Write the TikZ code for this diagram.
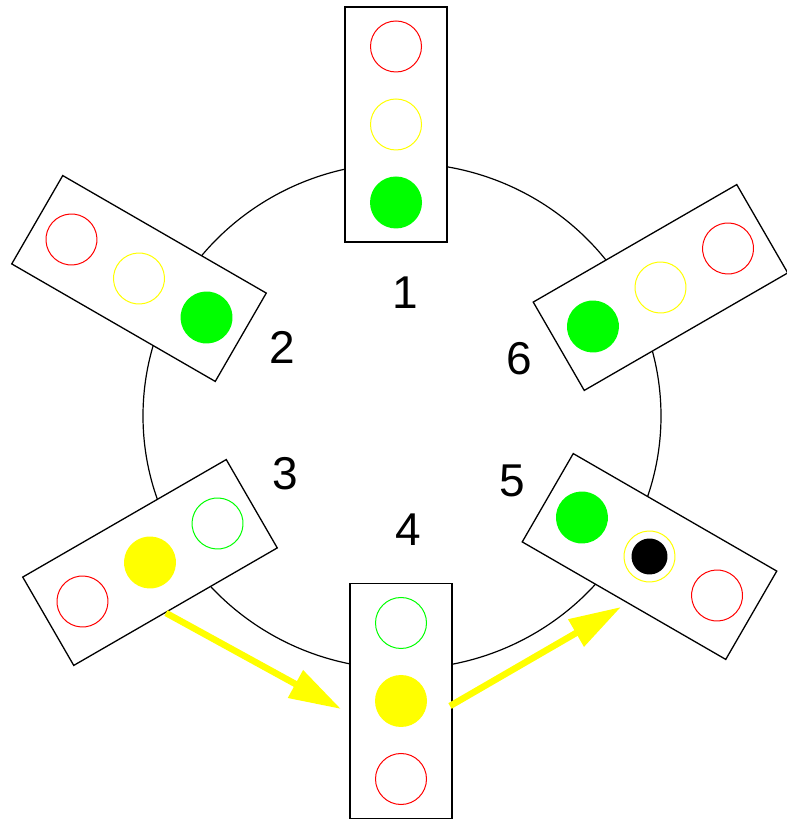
\documentclass[tikz,border=0pt]{standalone}
\usepackage{fontspec}
\setmainfont{Liberation Sans}
\usetikzlibrary{arrows.meta}
\definecolor{ink}{gray}{0.0}
\definecolor{lampR}{RGB}{255,0,0}
\definecolor{lampY}{RGB}{255,255,0}
\definecolor{lampG}{RGB}{0,255,0}

\begin{document}
\begin{tikzpicture}[x=1pt, y=1pt, line width=1pt,
   housing/.style={rectangle, draw=ink, fill=white, line width=1.3pt, minimum width=102pt, minimum height=235pt, inner sep=0pt},
   unlit/.style={circle, draw=#1, line width=1pt, minimum size=51pt, inner sep=0pt},
   lit/.style={circle, fill=#1, minimum size=52pt, inner sep=0pt},
   num/.style={font=\fontsize{46}{50}\selectfont, text=ink, inner sep=0pt},
   go/.style={draw=lampY, line width=6.5pt, -{Triangle[length=52pt, width=30pt]}}]
  \useasboundingbox (0,0) rectangle (787,820);
  % ring
  \coordinate (hub) at (402,404);
  \draw[ink, line width=1.2pt] (hub) ellipse [x radius=259, y radius=253];
  % light 1 (top)
  \begin{scope}[shift={(396,695.5)}, transform shape]
    \node[housing](L1) at (0,0){};
    \node[unlit=lampR](L1r) at (0,78){}; \node[unlit=lampY](L1y) at (0,0){};
    \node[lit=lampG](L1g) at (0,-78){};
  \end{scope}
  % light 2 (upper left)
  \begin{scope}[shift={(139,541.5)}, rotate=60, transform shape]
    \node[housing](L2) at (0,0){};
    \node[unlit=lampR](L2r) at (0,78){}; \node[unlit=lampY](L2y) at (0,0){};
    \node[lit=lampG](L2g) at (0,-78){};
  \end{scope}
  % light 3 (lower left)
  \begin{scope}[shift={(150,257.5)}, rotate=120, transform shape]
    \node[housing](L3) at (0,0){};
    \node[unlit=lampR](L3r) at (0,78){}; \node[lit=lampY](L3y) at (0,0){};
    \node[unlit=lampG](L3g) at (0,-78){};
  \end{scope}
  % light 4 (bottom)
  \begin{scope}[shift={(401,119)}, rotate=180, transform shape]
    \node[housing](L4) at (0,0){};
    \node[unlit=lampR](L4r) at (0,78){}; \node[lit=lampY](L4y) at (0,0){};
    \node[unlit=lampG](L4g) at (0,-78){};
  \end{scope}
  % light 5 (lower right)
  \begin{scope}[shift={(649.5,263.5)}, rotate=-120, transform shape]
    \node[housing](L5) at (0,0){};
    \node[unlit=lampR](L5r) at (0,78){}; \node[unlit=lampY](L5y) at (0,0){};
    \node[lit=ink, minimum size=36pt](L5d) at (0,0){};
    \node[lit=lampG](L5g) at (0,-78){};
  \end{scope}
  % light 6 (upper right)
  \begin{scope}[shift={(660.5,532.5)}, rotate=-60, transform shape]
    \node[housing](L6) at (0,0){};
    \node[unlit=lampR](L6r) at (0,78){}; \node[unlit=lampY](L6y) at (0,0){};
    \node[lit=lampG](L6g) at (0,-78){};
  \end{scope}
  % numbers
  \node[num](n1) at (405,527){1};
  \node[num](n2) at (282,473){2};
  \node[num](n3) at (285,346){3};
  \node[num](n4) at (408,290){4};
  \node[num](n5) at (512,339){5};
  \node[num](n6) at (519,461){6};
  % hand-over arrows
  \coordinate (from3) at (166,207); \coordinate (to4) at (341,111);
  \coordinate (from4) at (450,114); \coordinate (to5) at (621,213);
  \draw[go] (from3) -- (to4);
  \draw[go] (from4) -- (to5);
\end{tikzpicture}
\end{document}
